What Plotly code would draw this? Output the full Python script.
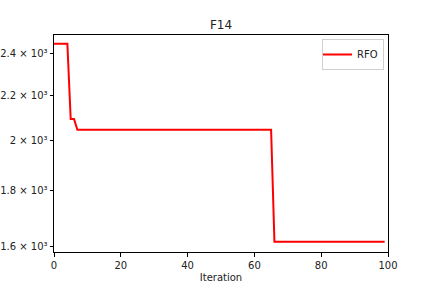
import plotly.graph_objects as go

iterations = [0, 4, 5, 6, 7, 65, 66, 99]
rfo_values = [2451, 2451, 2092, 2092, 2045, 2045, 1616, 1616]

y_tick_vals = [1600, 1800, 2000, 2200, 2400]
y_tick_text = ["1.6 × 10³", "1.8 × 10³", "2 × 10³", "2.2 × 10³", "2.4 × 10³"]
x_tick_vals = [0, 20, 40, 60, 80, 100]

fig = go.Figure()
fig.add_trace(go.Scatter(x=iterations, y=rfo_values, mode="lines", name="RFO",
                         line=dict(color="red", width=2)))

fig.update_layout(
    width=432, height=288,
    margin=dict(l=54, r=44, t=35, b=36, autoexpand=False),
    paper_bgcolor="white", plot_bgcolor="white",
    font=dict(family="DejaVu Sans", size=10, color="#222222"),
    title=dict(text="F14", x=(54 + 388) / 2 / 432, xanchor="center",
               y=1 - 25 / 288, yanchor="middle", font=dict(size=12)),
    showlegend=True,
    legend=dict(x=0.988, y=(252 - 39) / 217, xanchor="right", yanchor="top",
                bordercolor="#d0d0d0", borderwidth=1, bgcolor="white",
                itemwidth=30, font=dict(size=10), tracegroupgap=0,
                indentation=-6),
    xaxis=dict(range=[0, 100], tickvals=x_tick_vals, ticks="outside", ticklen=3.5,
               tickcolor="black", showline=True, linecolor="black", linewidth=1,
               mirror=True, showgrid=False, zeroline=False, automargin=False,
               tickfont=dict(size=10),
               title=dict(text="Iteration", standoff=4, font=dict(size=10))),
    yaxis=dict(type="log", range=[3.1990, 3.3973], tickvals=y_tick_vals,
               ticktext=y_tick_text, ticks="outside", ticklen=3.5, tickcolor="black",
               showline=True, linecolor="black", linewidth=1, mirror=True,
               showgrid=False, zeroline=False, automargin=False,
               tickfont=dict(size=10)),
)

fig.write_html("out.html")
